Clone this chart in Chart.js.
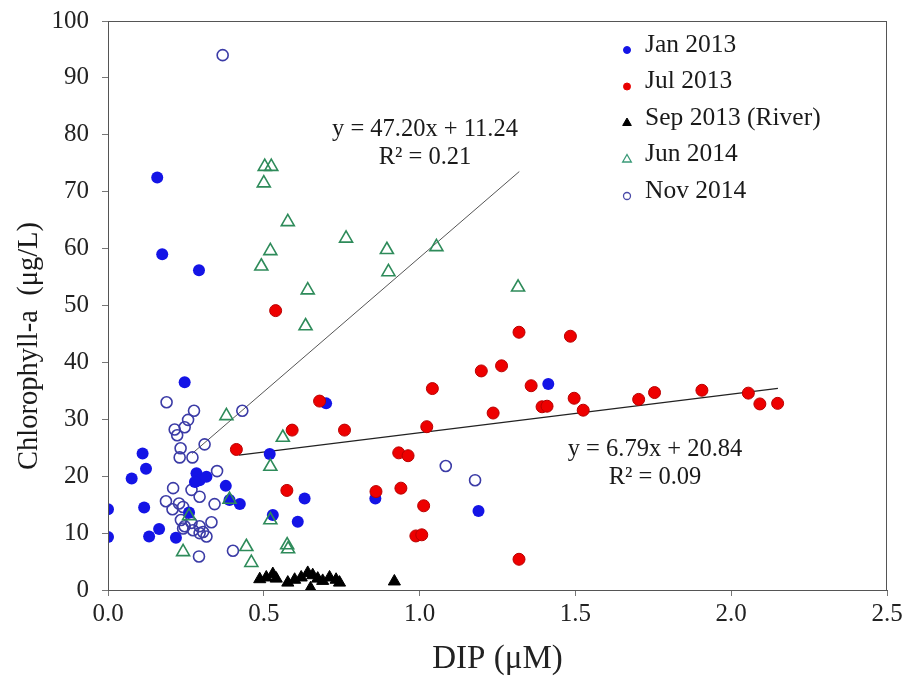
<!DOCTYPE html>
<html>
<head>
<meta charset="utf-8">
<script src="https://cdn.jsdelivr.net/npm/chart.js@4.4.1/dist/chart.umd.min.js"></script>
<style>
  body { margin: 0; background: #fff; }
  #wrap { width: 903px; height: 682px; }
</style>
</head>
<body>
<div id="wrap"><canvas id="chl" width="903" height="682"></canvas></div>
<script>
// values: DIP (uM) vs Chlorophyll-a (ug/L)
var janX = [0.0, 0.0, 0.246, 0.111, 0.122, 0.076, 0.116, 0.164, 0.132, 0.218, 0.284, 0.294, 0.316, 0.279, 0.378, 0.39, 0.423, 0.26, 0.519, 0.631, 0.529, 0.609, 0.70, 0.158, 0.174, 0.292, 1.413, 0.858, 1.189];
var janY = [14.2, 9.3, 36.5, 24.0, 21.3, 19.6, 14.5, 10.7, 9.4, 9.2, 20.5, 19.3, 19.9, 19.0, 18.3, 15.8, 15.1, 13.6, 23.9, 16.1, 13.2, 12.0, 32.8, 72.5, 59.0, 56.2, 36.2, 16.1, 13.9];

var julX = [0.538, 0.679, 0.591, 0.759, 0.412, 0.574, 1.319, 1.484, 1.198, 1.263, 1.041, 1.358, 1.393, 1.409, 1.496, 1.525, 1.236, 1.023, 0.933, 0.963, 0.86, 0.94, 1.013, 0.988, 1.007, 1.319, 1.703, 1.754, 1.906, 2.055, 2.092, 2.149];
var julY = [49.1, 33.2, 28.1, 28.1, 24.7, 17.5, 45.3, 44.6, 38.5, 39.4, 35.4, 35.9, 32.2, 32.3, 33.7, 31.6, 31.1, 28.7, 24.1, 23.6, 17.3, 17.9, 14.8, 9.5, 9.7, 5.4, 33.5, 34.7, 35.1, 34.6, 32.7, 32.8];

var sepX = [0.487, 0.508, 0.529, 0.540, 0.577, 0.599, 0.620, 0.641, 0.657, 0.673, 0.650, 0.689, 0.711, 0.732, 0.743, 0.919];
var sepY = [1.9, 2.2, 2.8, 2.0, 1.3, 1.8, 2.2, 3.0, 2.6, 2.0, 0.3, 1.6, 2.2, 1.8, 1.3, 1.5];

var junX = [0.503, 0.524, 0.50, 0.577, 0.521, 0.492, 0.764, 0.641, 0.634, 0.895, 0.90, 1.054, 1.316, 0.38, 0.561, 0.521, 0.39, 0.521, 0.575, 0.578, 0.444, 0.46, 0.241, 0.26];
var junY = [74.4, 74.4, 71.5, 64.7, 59.6, 56.9, 61.8, 52.7, 46.4, 59.8, 55.9, 60.3, 53.2, 30.6, 26.8, 21.7, 15.9, 12.3, 7.9, 7.2, 7.6, 4.8, 6.7, 13.0];

var novX = [0.368, 0.188, 0.276, 0.257, 0.246, 0.214, 0.222, 0.431, 0.31, 0.233, 0.230, 0.271, 0.35, 0.209, 0.268, 0.294, 0.186, 0.228, 0.342, 0.207, 0.241, 0.234, 0.332, 0.246, 0.268, 0.294, 0.273, 0.305, 0.316, 0.294, 0.241, 0.292, 0.401, 1.084, 1.178];
var novY = [94.0, 33.0, 31.5, 29.9, 28.6, 28.2, 27.2, 31.5, 25.6, 24.9, 23.3, 23.3, 20.9, 17.9, 17.6, 16.4, 15.6, 15.2, 15.1, 14.2, 14.6, 12.3, 11.9, 11.2, 11.8, 11.2, 10.5, 10.2, 9.4, 10.0, 10.8, 5.9, 6.9, 21.8, 19.3];

// linear fits printed on the figure
var fitSlope = [47.20, 6.79];
var fitIntercept = [11.24, 20.84];
var fitR2 = [0.21, 0.09];
var fitXStart = [0.27, 0.42];
var fitXEnd = [1.32, 2.15];

var xTicks = [0, 0.5, 1.0, 1.5, 2.0, 2.5];
var yTicks = [0, 10, 20, 30, 40, 50, 60, 70, 80, 90, 100];

function pts(xs, ys) {
  return xs.map(function (x, i) { return {x: x, y: ys[i]}; });
}
function fitLine(k) {
  return [fitXStart[k], fitXEnd[k]].map(function (x) {
    return {x: x, y: fitSlope[k] * x + fitIntercept[k]};
  });
}

var serif = "'Liberation Serif', 'Times New Roman', serif";

var legendItems = [
  {label: 'Jan 2013', style: 'circle', fill: '#1414e6', stroke: '#1414e6', width: 1, r: 3.5},
  {label: 'Jul 2013', style: 'circle', fill: '#e80000', stroke: '#e80000', width: 1, r: 3.5},
  {label: 'Sep 2013 (River)', style: 'triangle', fill: '#000', stroke: '#000', width: 1, r: 5},
  {label: 'Jun 2014', style: 'triangle', fill: 'rgba(0,0,0,0)', stroke: '#3a9a78', width: 1.3, r: 5},
  {label: 'Nov 2014', style: 'circle', fill: 'rgba(0,0,0,0)', stroke: '#4a4aa8', width: 1.3, r: 3.5}
];

var extras = {
  id: 'extras',
  afterDraw: function (chart) {
    var ctx = chart.ctx, a = chart.chartArea;
    ctx.save();
    // frame
    ctx.strokeStyle = '#555';
    ctx.lineWidth = 1;
    ctx.strokeRect(a.left + 0.5, a.top + 0.5, a.right - a.left - 1, a.bottom - a.top);

    // legend
    ctx.font = '25.5px ' + serif;
    ctx.textBaseline = 'middle';
    ctx.textAlign = 'left';
    legendItems.forEach(function (it, i) {
      var y = 45 + i * 36.5;
      ctx.fillStyle = it.fill;
      ctx.strokeStyle = it.stroke;
      ctx.lineWidth = it.width;
      Chart.helpers.drawPoint(ctx, {pointStyle: it.style, radius: it.r, rotation: 0, borderWidth: it.width}, 627, y + 5);
      ctx.fillStyle = '#1a1a1a';
      ctx.fillText(it.label, 645, y);
    });

    // fit equations
    ctx.textAlign = 'center';
    ctx.font = '24.5px ' + serif;
    var eqPos = [[425, 130, 158], [655, 450, 478]];
    fitSlope.forEach(function (s, k) {
      ctx.fillText('y = ' + s.toFixed(2) + 'x + ' + fitIntercept[k].toFixed(2), eqPos[k][0], eqPos[k][1]);
      ctx.fillText('R² = ' + fitR2[k].toFixed(2), eqPos[k][0], eqPos[k][2]);
    });

    // y axis title
    ctx.translate(30, 346);
    ctx.rotate(-Math.PI / 2);
    ctx.font = '28.5px ' + serif;
    ctx.fillText('Chlorophyll-a  (μg/L)', 0, 0);
    ctx.restore();
  }
};

new Chart(document.getElementById('chl'), {
  type: 'scatter',
  data: {
    datasets: [
      {label: 'fit1', type: 'line', data: fitLine(0), borderColor: '#555', borderWidth: 1, pointRadius: 0, fill: false, order: 10},
      {label: 'fit2', type: 'line', data: fitLine(1), borderColor: '#222', borderWidth: 1.3, pointRadius: 0, fill: false, order: 10},
      {label: 'Nov 2014', data: pts(novX, novY), pointStyle: 'circle', pointRadius: 5.5, backgroundColor: 'rgba(0,0,0,0)', borderColor: '#3b3ba6', pointBorderWidth: 1.6, order: 6},
      {label: 'Jan 2013', data: pts(janX, janY), pointStyle: 'circle', pointRadius: 6, backgroundColor: '#1414e6', borderColor: '#1414e6', pointBorderWidth: 0, order: 5},
      {label: 'Jun 2014', data: pts(junX, junY), pointStyle: 'triangle', pointRadius: 7.5, backgroundColor: 'rgba(0,0,0,0)', borderColor: '#2e8b5a', pointBorderWidth: 1.6, order: 4},
      {label: 'Jul 2013', data: pts(julX, julY), pointStyle: 'circle', pointRadius: 6, backgroundColor: '#ee0000', borderColor: '#b80000', pointBorderWidth: 1, order: 3},
      {label: 'Sep 2013 (River)', data: pts(sepX, sepY), pointStyle: 'triangle', pointRadius: 7, backgroundColor: '#000', borderColor: '#000', pointBorderWidth: 1, order: 2}
    ]
  },
  options: {
    responsive: false,
    animation: false,
    layout: {padding: {top: 21, right: 16, left: 0, bottom: 0}},
    plugins: {legend: {display: false}, tooltip: {enabled: false}},
    scales: {
      x: {
        type: 'linear', min: 0, max: 2.5,
        afterFit: function (s) { s.height = 92; s.paddingLeft = 0; s.paddingRight = 0; },
        afterBuildTicks: function (s) { s.ticks = xTicks.map(function (v) { return {value: v}; }); },
        ticks: {color: '#222', font: {family: serif, size: 25}, padding: 3,
          callback: function (v) { return Number(v).toFixed(1); }},
        grid: {drawOnChartArea: false, drawTicks: true, tickLength: 6, color: '#777'},
        border: {color: '#555'},
        title: {display: true, text: 'DIP (μM)', color: '#222', font: {family: serif, size: 33}, padding: {bottom: 3}}
      },
      y: {
        type: 'linear', min: 0, max: 100,
        afterFit: function (s) { s.width = 108; s.paddingTop = 0; s.paddingBottom = 0; },
        afterBuildTicks: function (s) { s.ticks = yTicks.map(function (v) { return {value: v}; }); },
        ticks: {color: '#222', font: {family: serif, size: 25}, padding: 13},
        grid: {drawOnChartArea: false, drawTicks: true, tickLength: 6, color: '#777'},
        border: {color: '#555'}
      }
    }
  },
  plugins: [extras]
});
</script>
</body>
</html>
